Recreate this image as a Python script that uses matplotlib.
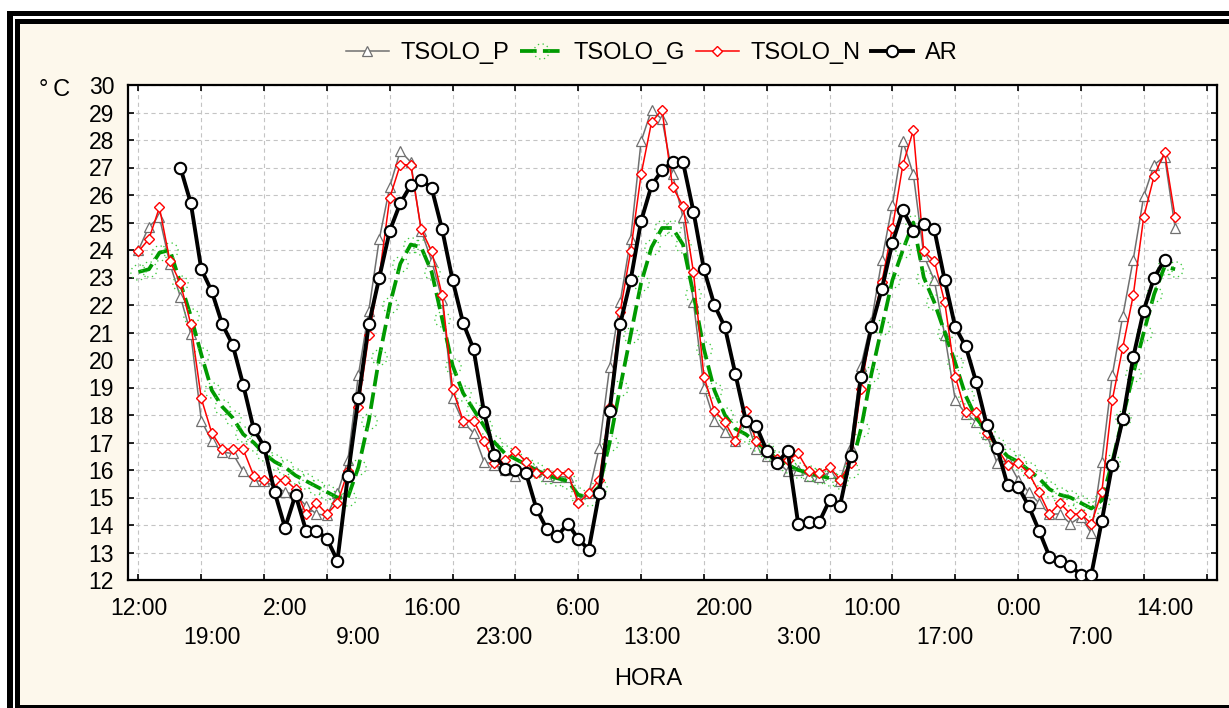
import numpy as np
import matplotlib
matplotlib.use('Agg')
import matplotlib.pyplot as plt
from matplotlib.path import Path
from matplotlib.patches import Rectangle

plt.rcParams['font.family'] = ['Liberation Sans', 'DejaVu Sans']
plt.rcParams['lines.scale_dashes'] = False

# ---------------- data (hourly readings) ----------------
hour_labels = ['12:00', '19:00', '2:00', '9:00', '16:00', '23:00', '6:00', '13:00',
               '20:00', '3:00', '10:00', '17:00', '0:00', '7:00', '14:00']
label_step = 7
y_ticks = list(range(12, 31))

tsolo_p = [24.0, 24.85, 25.2, 23.5, 22.3, 20.95, 17.8, 17.05, 16.65, 16.6,
           15.95, 15.6, 15.6, 15.4, 15.2, 15.1, 14.7, 14.4, 14.35, 15.15,
           16.35, 19.45, 21.8, 24.4, 26.3, 27.6, 27.2, 24.7, 23.6, 22.2,
           18.6, 17.75, 17.35, 16.3, 16.2, 16.0, 15.8, 15.95, 15.95, 15.8,
           15.75, 15.75, 14.95, 15.15, 16.8, 19.75, 22.1, 24.4, 27.95, 29.1,
           28.75, 26.75, 25.2, 22.1, 19.0, 17.8, 17.4, 17.05, 17.9, 16.75,
           16.5, 16.3, 15.95, 16.0, 15.8, 15.75, 15.9, 15.6, 16.85, 19.8,
           21.4, 23.65, 25.65, 27.95, 26.75, 23.8, 22.9, 20.9, 18.55, 18.05,
           17.75, 17.3, 16.25, 16.35, 15.65, 15.2, 14.8, 14.4, 14.4, 14.05,
           14.3, 13.7, 16.3, 19.45, 21.6, 23.65, 25.95, 27.1, 27.4, 24.8]

tsolo_g = [23.2, 23.3, 23.9, 24.0, 22.8, 21.6, 20.2, 18.9, 18.3, 17.9,
           17.3, 17.0, 16.6, 16.3, 16.1, 15.8, 15.6, 15.4, 15.2, 15.0,
           15.0, 16.1, 17.8, 20.1, 22.0, 23.5, 24.2, 24.1, 23.2, 21.5,
           19.8, 18.8, 18.2, 17.6, 17.0, 16.6, 16.4, 16.2, 16.0, 15.8,
           15.7, 15.6, 15.1, 15.0, 15.4, 17.0, 19.0, 20.9, 22.8, 24.1,
           24.8, 24.8, 24.2, 22.4, 20.4, 18.9, 18.0, 17.5, 17.3, 17.0,
           16.7, 16.4, 16.2, 16.0, 15.9, 15.8, 15.7, 15.6, 16.0, 17.5,
           19.5, 21.2, 22.9, 24.0, 25.0, 23.0, 22.1, 21.0, 19.9, 18.7,
           17.9, 17.4, 16.9, 16.5, 16.3, 16.0, 15.7, 15.3, 15.1, 15.0,
           14.8, 14.6, 14.9, 16.3, 17.9, 19.5, 21.0, 22.4, 23.4, 23.3]

tsolo_n = [23.95, 24.4, 25.55, 23.6, 22.8, 21.3, 18.6, 17.35, 16.75, 16.75,
           16.75, 15.8, 15.65, 15.65, 15.65, 15.3, 14.4, 14.8, 14.4, 14.8,
           15.95, 18.3, 20.9, 23.05, 25.9, 27.1, 27.1, 24.75, 23.95, 22.35,
           18.95, 17.8, 17.8, 17.05, 16.25, 16.35, 16.7, 16.3, 15.9, 15.9,
           15.9, 15.9, 14.8, 15.15, 15.65, 18.3, 21.75, 23.95, 26.75, 28.65,
           29.1, 26.3, 25.6, 23.2, 19.4, 18.15, 17.75, 17.05, 18.15, 17.05,
           16.7, 16.4, 16.35, 16.6, 15.95, 15.9, 16.1, 15.65, 16.25, 18.95,
           21.2, 22.85, 24.8, 27.1, 28.35, 23.95, 23.6, 22.1, 19.4, 18.1,
           18.1, 17.35, 16.8, 16.2, 16.25, 15.9, 15.2, 14.4, 14.8, 14.4,
           14.4, 14.05, 15.2, 18.55, 20.45, 22.35, 25.2, 26.7, 27.55, 25.2]

ar_first_hour = 4
ar = [27.0, 25.7, 23.3, 22.5, 21.3, 20.55, 19.1, 17.5, 16.85, 15.2,
      13.9, 15.1, 13.8, 13.8, 13.5, 12.7, 15.8, 18.6, 21.3, 23.0,
      24.7, 25.7, 26.35, 26.55, 26.25, 24.75, 22.9, 21.35, 20.4, 18.1,
      16.55, 16.05, 16.0, 15.9, 14.6, 13.85, 13.6, 14.05, 13.5, 13.1,
      15.15, 18.15, 21.3, 22.9, 25.05, 26.35, 26.9, 27.2, 27.2, 25.4,
      23.3, 22.0, 21.2, 19.5, 17.8, 17.6, 16.7, 16.25, 16.7, 14.05,
      14.1, 14.1, 14.9, 14.7, 16.5, 19.4, 21.2, 22.6, 24.25, 25.45,
      24.7, 24.95, 24.75, 22.9, 21.2, 20.5, 19.2, 17.65, 16.8, 15.45,
      15.4, 14.7, 13.8, 12.85, 12.7, 12.5, 12.2, 12.2, 14.15, 16.2,
      17.85, 20.1, 21.8, 23.0, 23.65]

# ---------------- figure ----------------
W, H = 1229, 708
fig = plt.figure(figsize=(W / 100, H / 100), dpi=100, facecolor='white')


def px_rect(x0, y0, x1, y1, color, z):
    fig.add_artist(Rectangle((x0 / W, 1 - y1 / H), (x1 - x0) / W, (y1 - y0) / H,
                             transform=fig.transFigure, facecolor=color,
                             edgecolor='none', zorder=z))


# double black frame around a cream panel
px_rect(7, 11, 1300, 800, 'black', -20)
px_rect(12.5, 16, 1300, 800, 'white', -19)
px_rect(15, 18.5, 1300, 800, 'black', -18)
px_rect(20, 23.5, 1300, 705, '#fdf8ec', -17)

ax = fig.add_axes([128 / W, 1 - 580 / H, (1217 - 128) / W, 495 / H])
ax.set_facecolor('white')

x_all = np.arange(len(tsolo_p))
x_ar = np.arange(ar_first_hour, ar_first_hour + len(ar))

# dotted-ring marker for TSOLO_G
verts, codes = [], []
for k in range(10):
    a = 2 * np.pi * k / 10
    verts += [(np.cos(a), np.sin(a)), (np.cos(a + 0.18), np.sin(a + 0.18))]
    codes += [Path.MOVETO, Path.LINETO]
ring = Path(verts, codes)

ax.plot(x_all, tsolo_p, color='#707070', lw=1.1, marker='^', ms=7.5,
        mfc='white', mec='#707070', mew=0.9, label='TSOLO_P', zorder=3)
ax.plot(x_all, tsolo_g, color='#009a00', lw=2.7, dashes=[12, 4.5],
        marker=ring, ms=11, mfc='none', mec='#3cc83c', mew=0.9,
        label='TSOLO_G', zorder=4)
ax.plot(x_all, tsolo_n, color='#ff0000', lw=1.1, marker='D', ms=5.5,
        mfc='white', mec='#ff0000', mew=1.0, label='TSOLO_N', zorder=5)
ax.plot(x_ar, ar, color='black', lw=2.8, marker='o', ms=8.2,
        mfc='white', mec='black', mew=1.5, label='AR', zorder=6)

ax.set_xlim(-1, 103)
ax.set_ylim(12, 30)
ax.set_xticks(np.arange(0, 103, 6))
ax.set_xticklabels([])
ax.set_yticks(y_ticks)
ax.set_yticklabels([str(v) for v in y_ticks], fontsize=16.5)
ax.tick_params(axis='both', which='major', direction='in', length=4, width=1.2,
               top=True, right=True, colors='black')
ax.tick_params(axis='y', pad=10)
ax.grid(True, color='#c4c4c4', lw=0.8, dashes=[3, 2.5])
ax.set_axisbelow(True)
for s in ax.spines.values():
    s.set_linewidth(1.6)
    s.set_color('black')

xt = ax.get_xaxis_transform()
for k, lab in enumerate(hour_labels):
    yy = -0.0566 if k % 2 == 0 else -0.117
    ax.text(k * label_step, yy, lab, transform=xt, ha='center', va='center',
            fontsize=16.5, clip_on=False)

fig.text(648 / W, 1 - 679 / H, 'HORA', ha='center', va='center', fontsize=17)
fig.text(39 / W, 1 - 90 / H, '°\u2009C', ha='left', va='center', fontsize=17)

ax.legend(loc='center', bbox_to_anchor=(652 / W, 1 - 53 / H),
          bbox_transform=fig.transFigure, ncol=4, frameon=False, fontsize=17,
          handlelength=1.8, handletextpad=0.5, columnspacing=0.45, numpoints=1)

fig.savefig('out.png', dpi=100, facecolor=fig.get_facecolor())
